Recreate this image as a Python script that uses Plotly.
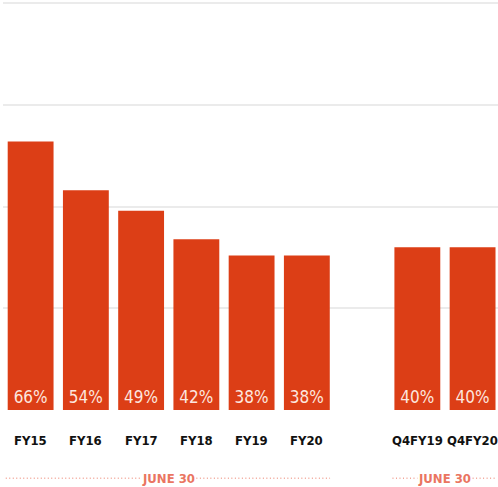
import plotly.graph_objects as go

# Data
annual_labels = ["FY15", "FY16", "FY17", "FY18", "FY19", "FY20"]
annual_values = [66, 54, 49, 42, 38, 38]
quarter_labels = ["Q4FY19", "Q4FY20"]
quarter_values = [40, 40]
group_caption = "JUNE 30"

BAR = "#dc3e16"
CAP = "#ea7561"
DOT = "#f2a597"
NARROW = "DejaVu Sans Condensed, Liberation Sans Narrow, sans-serif"

# positions: annual group then a one-slot gap then quarterly group
x_annual = list(range(len(annual_labels)))
q_start = len(annual_labels) + 1
x_quarter = [q_start + i for i in range(len(quarter_labels))]

xs = x_annual + x_quarter
vals = annual_values + quarter_values
labels = annual_labels + quarter_labels

fig = go.Figure()
fig.add_trace(go.Bar(
    x=xs, y=vals,
    marker=dict(color=BAR, line=dict(width=0)),
    width=0.83,
    text=[f"{v}%" for v in vals],
    textposition="inside",
    insidetextanchor="start",
    textangle=0,
    textfont=dict(family=NARROW, size=17, color="#fde6df"),
    hoverinfo="skip",
))

fig.update_layout(
    width=498, height=487,
    margin=dict(l=3, r=0, t=2, b=77),
    paper_bgcolor="white", plot_bgcolor="white",
    showlegend=False,
    uniformtext=dict(mode="show", minsize=8),
    xaxis=dict(
        range=[-0.5, 8.46],
        showticklabels=False,
        showgrid=False, zeroline=False, showline=False, ticks="",
    ),
    yaxis=dict(
        range=[0, 100.3], tickvals=[0, 25, 50, 75, 100],
        showticklabels=False, showgrid=True, gridcolor="#ebebeb", gridwidth=2,
        zeroline=False, showline=False, ticks="",
    ),
)

# category labels under bars
for x, lab in zip(xs, labels):
    fig.add_annotation(
        x=x, y=-0.074, xref="x", yref="paper", text=lab,
        showarrow=False, xanchor="center", yanchor="middle",
        font=dict(family=NARROW, size=13, color="#111111", weight="bold"),
    )

# group captions with dotted rules
cap_y = -0.167
groups = [(x_annual[0], x_annual[-1]), (x_quarter[0], x_quarter[-1])]
for a, b in groups:
    mid = (a + b) / 2
    fig.add_annotation(
        x=mid, y=cap_y, xref="x", yref="paper", text=group_caption,
        showarrow=False, xanchor="center", yanchor="middle",
        font=dict(family=NARROW, size=13, color=CAP, weight="bold"),
    )
    for x0, x1 in [(a - 0.45, mid - 0.5), (mid + 0.5, b + 0.42)]:
        fig.add_shape(
            type="line", xref="x", yref="paper",
            x0=x0, x1=x1, y0=cap_y, y1=cap_y,
            line=dict(color=DOT, width=1.5, dash="1px,2.5px"),
        )

fig.write_html("out.html")
